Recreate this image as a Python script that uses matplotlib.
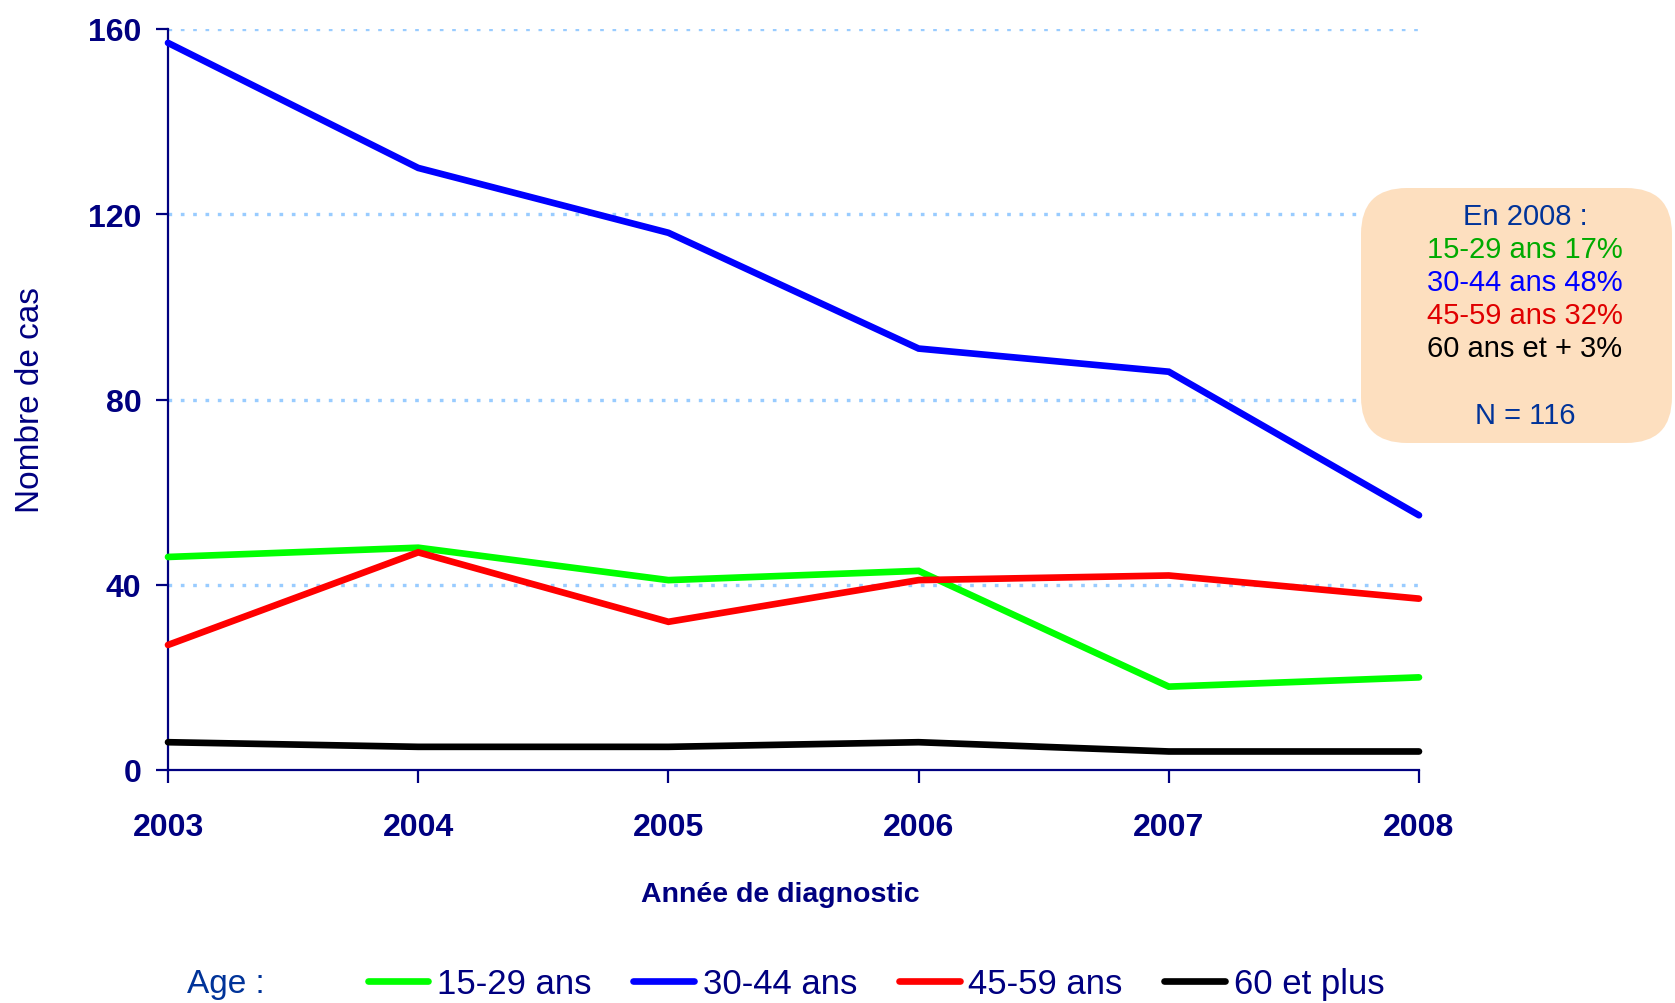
import matplotlib
matplotlib.use("Agg")
from matplotlib import pyplot as plt
from matplotlib.patches import FancyBboxPatch

years = [2003, 2004, 2005, 2006, 2007, 2008]
age_15_29 = [46, 48, 41, 43, 18, 20]
age_30_44 = [157, 130, 116, 91, 86, 55]
age_45_59 = [27, 47, 32, 41, 42, 37]
age_60_plus = [6, 5, 5, 6, 4, 4]

series_labels = ["15-29 ans", "30-44 ans", "45-59 ans", "60 et plus"]
series_colors = ["#00FF00", "#0000FF", "#FF0000", "#000000"]

box_lines = ["En 2008 :", "15-29 ans 17%", "30-44 ans 48%", "45-59 ans 32%", "60 ans et + 3%", "", "N = 116"]
box_colors = ["#003399", "#00AA00", "#0000FF", "#E00000", "#000000", "#000000", "#003399"]

navy = "#000080"
plt.rcParams["font.family"] = ["Liberation Sans", "DejaVu Sans"]

fig = plt.figure(figsize=(16.75, 10.04), dpi=100)
ax = fig.add_axes([168 / 1675, 1 - 771 / 1004, 1251 / 1675, 741 / 1004])

lines = []
for vals, col in zip([age_15_29, age_30_44, age_45_59, age_60_plus], series_colors):
    ln, = ax.plot(years, vals, color=col, lw=4.8, solid_capstyle="round",
                  solid_joinstyle="miter", clip_on=False, zorder=3)
    lines.append(ln)

ax.set_xlim(2003, 2008)
ax.set_ylim(0, 160)
ax.set_xticks(years)
ax.set_yticks([0, 40, 80, 120, 160])
for y in [40, 80, 120, 160]:
    ax.axhline(y, color="#99CCFF", lw=2.4, ls=(0, (1.1, 2.6)), zorder=1)

for s in ["top", "right"]:
    ax.spines[s].set_visible(False)
for s in ["left", "bottom"]:
    ax.spines[s].set_color(navy)
    ax.spines[s].set_linewidth(1.6)
ax.tick_params(axis="both", colors=navy, length=9, width=1.6, direction="out")
ax.tick_params(axis="y", pad=10)
ax.tick_params(axis="x", pad=21)
for lab in ax.get_xticklabels() + ax.get_yticklabels():
    lab.set_fontsize(23)
    lab.set_fontweight("bold")
    lab.set_color(navy)

fig.text(0.018, 0.602, "Nombre de cas", rotation=90, ha="center", va="center",
         fontsize=24, color=navy)
fig.text(0.466, 0.109, "Année de diagnostic", ha="center", va="center",
         fontsize=20.5, fontweight="bold", color=navy)

# legend at the bottom
fig.text(187 / 1675, 0.019, "Age :", ha="left", va="center", fontsize=24, color="#003399")
leg = fig.legend(lines, series_labels, loc="center", bbox_to_anchor=(0.523, 0.019),
                 ncol=4, frameon=False, fontsize=25, handlelength=1.75,
                 handletextpad=0.25, columnspacing=1.2)
for t in leg.get_texts():
    t.set_color(navy)

# annotation box on the right
bax = fig.add_axes([1361 / 1675, 1 - 444 / 1004, 314 / 1675, 255 / 1004])
bax.set_xlim(0, 314)
bax.set_ylim(0, 255)
bax.axis("off")
r = 46
bax.add_patch(FancyBboxPatch((r, r), 311 - 2 * r, 255 - 2 * r,
                             boxstyle=f"round,pad={r}", fc="#FDDFBF", ec="none",
                             clip_on=False))
line_y = [217, 250, 283, 316, 349, 382, 416]
for txt, col, yy in zip(box_lines, box_colors, line_y):
    bax.text(1525 - 1361, 444 - yy, txt, ha="center", va="center",
             fontsize=21, color=col)

fig.savefig("out.png", dpi=100)
